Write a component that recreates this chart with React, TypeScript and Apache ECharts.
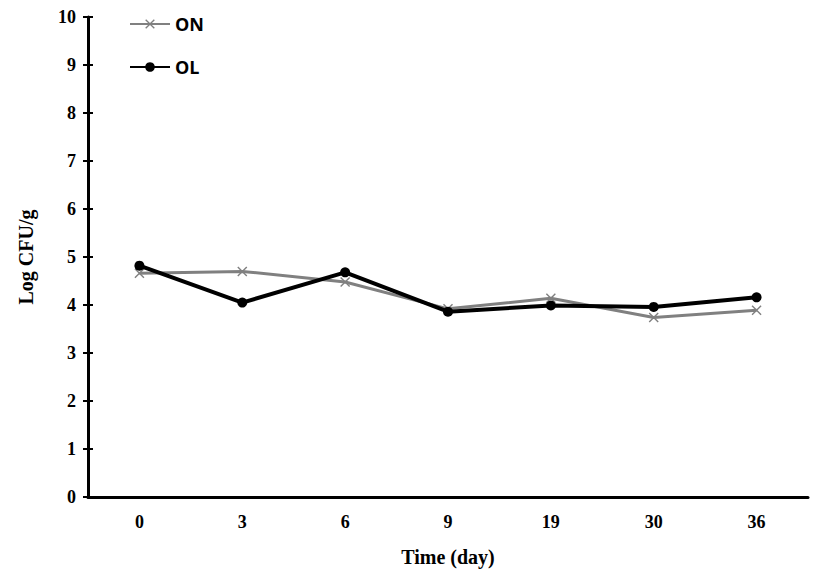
import React, { useEffect, useRef } from "react";
import * as echarts from "echarts";

const categories = ["0", "3", "6", "9", "19", "30", "36"];
const onValues = [4.66, 4.7, 4.48, 3.92, 4.14, 3.74, 3.89];
const olValues = [4.82, 4.05, 4.68, 3.86, 3.99, 3.96, 4.16];
const yTicks = { min: 0, max: 10, interval: 1 };

const crossPath =
  "path://M0,1L1,0L5,4L9,0L10,1L6,5L10,9L9,10L5,6L1,10L0,9L4,5Z";

export default function App() {
  const ref = useRef<HTMLDivElement>(null);
  useEffect(() => {
    if (!ref.current) return;
    const chart = echarts.init(ref.current, undefined, { renderer: "svg" });
    const serif = "Liberation Serif";
    const axisLine = { lineStyle: { color: "#000", width: 3 } };
    chart.setOption({
      animation: false,
      backgroundColor: "#fff",
      grid: { left: 77, right: 11, top: 8, bottom: 80, containLabel: false },
      legend: {
        orient: "vertical",
        left: 116,
        top: 2,
        itemGap: 25,
        itemWidth: 40,
        itemHeight: 12,
        textStyle: { fontFamily: "Open Sans", fontWeight: "bold", fontSize: 18, color: "#000" },
        data: ["ON", "OL"],
      },
      xAxis: [
        {
          type: "category",
          data: categories,
          boundaryGap: true,
          axisLine,
          axisTick: { alignWithLabel: true, length: 5, lineStyle: { color: "#000", width: 2 } },
          axisLabel: { fontFamily: serif, fontWeight: "bold", fontSize: 18, color: "#000", margin: 16 },
          name: "Time (day)",
          nameLocation: "middle",
          nameGap: 50,
          nameTextStyle: { fontFamily: serif, fontWeight: "bold", fontSize: 20, color: "#000" },
        },
        {
          type: "category",
          data: categories,
          position: "bottom",
          boundaryGap: true,
          axisLine: { show: false },
          axisTick: { inside: true, alignWithLabel: true, length: 5, lineStyle: { color: "#000", width: 2 } },
          axisLabel: { show: false },
        },
      ],
      yAxis: [
        {
          type: "value",
          min: yTicks.min,
          max: yTicks.max,
          interval: yTicks.interval,
          axisLine: { show: true, ...axisLine },
          axisTick: { show: true, length: 5, lineStyle: { color: "#000", width: 2 } },
          splitLine: { show: false },
          axisLabel: { fontFamily: serif, fontWeight: "bold", fontSize: 18, color: "#000", margin: 12 },
          name: "Log CFU/g",
          nameLocation: "middle",
          nameGap: 52,
          nameRotate: 90,
          nameTextStyle: { fontFamily: serif, fontWeight: "bold", fontSize: 20, color: "#000" },
        },
        {
          type: "value",
          min: yTicks.min,
          max: yTicks.max,
          interval: yTicks.interval,
          position: "left",
          axisLine: { show: false },
          axisTick: { show: true, inside: true, length: 5, lineStyle: { color: "#000", width: 2 } },
          splitLine: { show: false },
          axisLabel: { show: false },
        },
      ],
      series: [
        {
          name: "ON",
          type: "line",
          data: onValues,
          symbol: crossPath,
          symbolSize: 10,
          itemStyle: { color: "#808080" },
          lineStyle: { color: "#808080", width: 3 },
          z: 2,
        },
        {
          name: "OL",
          type: "line",
          data: olValues,
          symbol: "circle",
          symbolSize: 10,
          itemStyle: { color: "#000" },
          lineStyle: { color: "#000", width: 4 },
          z: 3,
        },
      ],
    });
    return () => chart.dispose();
  }, []);
  return <div ref={ref} style={{ width: 811, height: 569 }} />;
}
